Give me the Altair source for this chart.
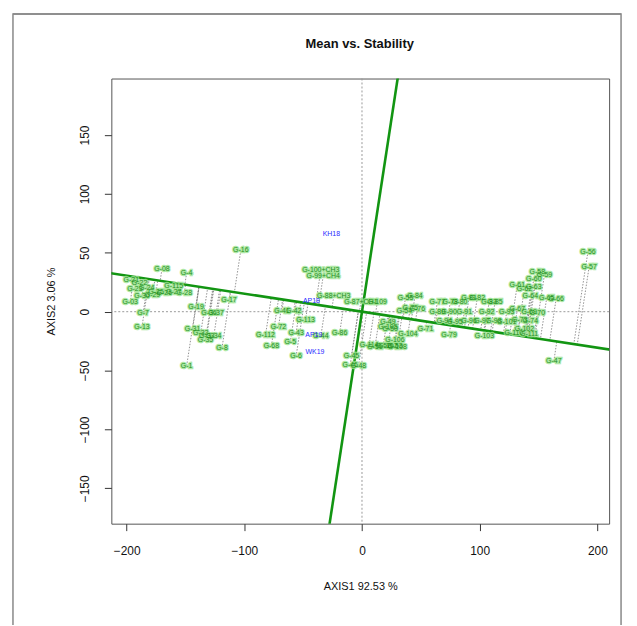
import altair as alt
import pandas as pd
import numpy as np

# ---- data ----
geno_labels = [
    "G-16", "G-08", "G-4", "G-21", "G-22", "G-23", "G-24", "G-25", "G-26", "G-27",
    "G-28", "G-29", "G-30", "G-03", "G-7", "G-13", "G-19", "G-17", "G-31", "G-32",
    "G-33", "G-34", "G-35", "G-36", "G-37", "G-8", "G-1",
    "G-100+CH3", "G-99+CH4", "G-88+CH3", "G-87+CH1", "G-41", "G-42", "G-72", "G-43",
    "G-44", "G-86", "G-68", "G-5", "G-6", "G-45", "G-46", "G-48", "G-49", "G-50",
    "G-51", "G-52", "G-53", "G-54", "G-55",
    "G-56", "G-57", "G-58", "G-59", "G-60", "G-61", "G-62", "G-63", "G-64", "G-65",
    "G-66", "G-67", "G-69", "G-70", "G-73", "G-74", "G-47",
    "G-84", "G-75", "G-76", "G-77", "G-78", "G-80", "G-81", "G-82", "G-83", "G-85",
    "G-89", "G-90", "G-91", "G-92", "G-93", "G-94", "G-95", "G-96", "G-97", "G-98",
    "G-101", "G-102", "G-103", "G-104", "G-105", "G-71", "G-79", "G-106", "G-107",
    "G-108", "G-109", "G-110", "G-111", "G-112", "G-113", "G-114", "G-115",
]
geno_x = [
    -103, -170, -149, -196, -189, -193, -183, -175, -168, -160,
    -151, -178, -187, -197, -186, -187, -141, -113, -144, -137,
    -132, -126, -133, -130, -124, -119, -149,
    -35, -33, -24, -1, -68, -58, -71, -56,
    -35, -19, -77, -61, -56, -9, -10, -3, 22, 24,
    11, 18, 28, 36, 37,
    192, 193, 149, 155, 146, 132, 138, 146, 143, 157,
    165, 132, 142, 149, 134, 143, 163,
    45, 41, 47, 64, 75, 83, 91, 98, 108, 113,
    64, 74, 87, 106, 123, 70, 79, 91, 102, 112,
    123, 138, 104, 39, 22, 54, 74, 28, 22,
    30, 13, 129, 142, -82, -48, 6, -160,
]
geno_y = [
    52, 36, 33, 27, 24, 19, 20, 17, 16, 17,
    16, 14, 13, 8, -1, -13, 4, 10, -15, -18,
    -21, -21, -24, -1, -1, -31, -46,
    35, 30, 13, 8, 1, 1, -13, -18,
    -21, -18, -29, -26, -38, -38, -45, -46, -9, -15,
    -30, -29, -29, 1, 12,
    51, 38, 34, 31, 28, 23, 19, 21, 13, 12,
    11, 2, 0, -1, -7, -8, -42,
    13, 3, 2, 8, 8, 8, 12, 12, 8, 8,
    0, 0, 0, 0, 0, -8, -9, -8, -8, -8,
    -9, -15, -21, -19, -13, -15, -20, -24, -29,
    -30, 8, -18, -19, -20, -7, -28, 22,
]
env_labels = ["KH18", "AP18", "AP19", "WK19"]
env_x = [-26, -43, -41, -40]
env_y = [66, 9, -20, -34]

chart_title = ["Mean vs. Stability"]
aec_slope = -0.153          # slope of the average-environment axis
x_domain = [-213, 210]
y_domain = [-180, 198]

# ---- derived tables ----
geno = pd.DataFrame({"label": geno_labels, "x": geno_x, "y": geno_y})
t = (geno["x"] + aec_slope * geno["y"]) / (1 + aec_slope ** 2)
geno["px"] = t
geno["py"] = t * aec_slope
env = pd.DataFrame({"label": env_labels, "x": env_x, "y": env_y})

big = 400
axes_lines = pd.DataFrame({
    "x": [-big, -big * aec_slope],
    "y": [-big * aec_slope, big],
    "x2": [big, big * aec_slope],
    "y2": [big * aec_slope, -big],
})
zero = pd.DataFrame({"z": [0]})
dummy = pd.DataFrame({"d": [0]})
title_df = pd.DataFrame({"t": chart_title})

xs = alt.Scale(domain=x_domain, nice=False, zero=False)
ys = alt.Scale(domain=y_domain, nice=False, zero=False)

xax = alt.Axis(values=[-200, -100, 0, 100, 200], tickSize=7, labelPadding=15,
               title="AXIS1 92.53 %", titlePadding=24, domain=False, grid=False,
               labelFontSize=12, titleFontSize=11, titleFontWeight="normal",
               tickColor="#333", labelColor="#111", titleColor="#111",
               labelFont="Liberation Sans", titleFont="Liberation Sans")
yax = alt.Axis(values=[-150, -100, -50, 0, 50, 100, 150], tickSize=7, labelPadding=13,
               labelAngle=-90, labelAlign="center", labelBaseline="bottom",
               title="AXIS2 3.06 %", titlePadding=22, domain=False, grid=False,
               labelFontSize=12, titleFontSize=11, titleFontWeight="normal",
               tickColor="#333", labelColor="#111", titleColor="#111",
               labelFont="Liberation Sans", titleFont="Liberation Sans")

border = alt.Chart(dummy).mark_rect(fill=None, stroke="#888888", strokeWidth=1.5).encode(
    x=alt.value(-99), x2=alt.value(513), y=alt.value(-65), y2=alt.value(600)
)
border_top = alt.Chart(dummy).mark_rule(color="#888888", strokeWidth=1.5).encode(
    x=alt.value(-99), x2=alt.value(513), y=alt.value(-65)
)
title_mark = alt.Chart(title_df).mark_text(
    fontSize=13, font="Liberation Sans", fontWeight="bold", color="#111",
    align="center", baseline="middle"
).encode(x=alt.value(250), y=alt.value(-35), text="t:N")

vline = alt.Chart(zero).mark_rule(color="#999", strokeDash=[2, 2], strokeWidth=1).encode(
    x=alt.X("z:Q", scale=xs, axis=xax)
)
hline = alt.Chart(zero).mark_rule(color="#999", strokeDash=[2, 2], strokeWidth=1).encode(
    y=alt.Y("z:Q", scale=ys, axis=yax)
)

proj = alt.Chart(geno).mark_rule(color="#777", strokeDash=[1.5, 1.5], strokeWidth=0.8).encode(
    x=alt.X("x:Q", scale=xs), y=alt.Y("y:Q", scale=ys), x2="px:Q", y2="py:Q"
)

aec = alt.Chart(axes_lines).mark_rule(color="#129512", strokeWidth=2.6, clip=True).encode(
    x=alt.X("x:Q", scale=xs), y=alt.Y("y:Q", scale=ys), x2="x2:Q", y2="y2:Q"
)

halo = alt.Chart(geno).mark_text(fontSize=7, font="Liberation Sans", color="#9be38f",
                                 stroke="#9be38f", strokeWidth=2.5, opacity=0.8).encode(
    x=alt.X("x:Q", scale=xs), y=alt.Y("y:Q", scale=ys), text="label:N"
)
gtext = alt.Chart(geno).mark_text(fontSize=7, font="Liberation Sans", color="#1f8f1f").encode(
    x=alt.X("x:Q", scale=xs), y=alt.Y("y:Q", scale=ys), text="label:N"
)
etext = alt.Chart(env).mark_text(fontSize=7, font="Liberation Sans", color="#2b2bff").encode(
    x=alt.X("x:Q", scale=xs), y=alt.Y("y:Q", scale=ys), text="label:N"
)

chart = alt.layer(border, border_top, title_mark, vline, hline, proj, aec,
                  halo, gtext, etext).properties(
    width=501, height=448,
    autosize=alt.AutoSizeParams(type="none"),
    padding={"left": 104, "top": 69, "right": 20, "bottom": 100},
).configure_view(stroke="#555", strokeWidth=1)

chart.save("out.html", embed_options={"renderer": "svg", "actions": False})
